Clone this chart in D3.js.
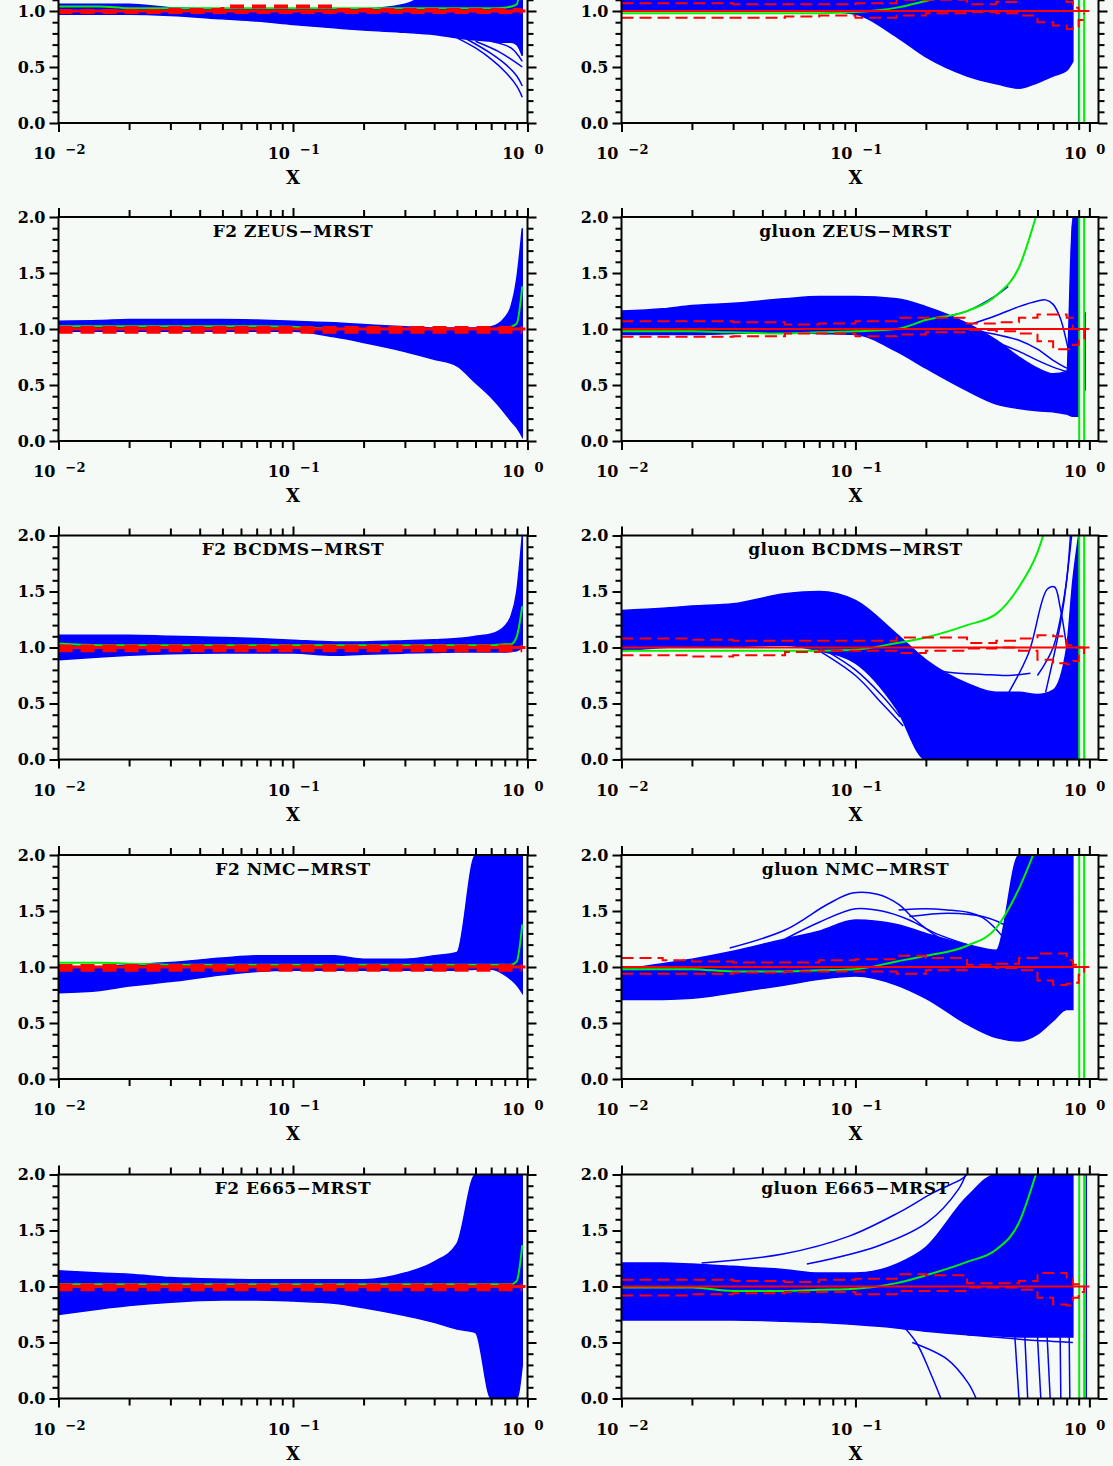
<!DOCTYPE html>
<html>
<head>
<meta charset="utf-8">
<script src="https://cdn.jsdelivr.net/npm/d3@7"></script>
<style>
  body { margin: 0; background: #f5faf7; }
  svg { display: block; }
  text { font-family: "DejaVu Serif", "Liberation Serif", serif; font-weight: bold; fill: #000; }
</style>
</head>
<body>
<script>
// x points shared by all bands and reference curves
var xGrid = [0.01, 0.015, 0.02, 0.03, 0.05, 0.07, 0.1, 0.15, 0.2, 0.3, 0.4, 0.5, 0.6, 0.7, 0.8, 0.85, 0.9, 0.95];

// row 1 (top cut off)
var aUpper = [1.06, 1.06, 1.06, 1.03, 1.02, 1.02, 1.02, 1.02, 1.02, 1.06, 1.2, 1.35, 1.5, 1.7, 1.85, 1.9, 2.0, 2.0];
var aLower = [0.97, 0.97, 0.97, 0.96, 0.93, 0.91, 0.88, 0.85, 0.83, 0.81, 0.79, 0.76, 0.74, 0.73, 0.72, 0.72, 0.70, 0.60];
var aGreen = [1.04, 1.04, 1.025, 1.025, 1.025, 1.025, 1.025, 1.025, 1.025, 1.025, 1.025, 1.025, 1.025, 1.025, 1.03, 1.04, 1.06, 1.4];
var aRedHi = [1.0, 1.0, 1.0, 1.01, 1.04, 1.04, 1.04, 1.01, 1.01, 1.01, 1.01, 1.01, 1.01, 1.01, 1.01, 1.01, 1.01, 1.01];
var aRedLo = [0.99, 0.99, 0.99, 0.99, 0.99, 0.99, 0.99, 0.99, 0.99, 0.99, 0.99, 0.99, 0.99, 0.99, 0.99, 0.99, 0.99, 0.99];
var aCurves = [
  [[0.5, 0.76], [0.6, 0.67], [0.7, 0.57], [0.8, 0.46], [0.9, 0.33], [0.95, 0.23]],
  [[0.55, 0.75], [0.7, 0.62], [0.8, 0.53], [0.9, 0.42], [0.95, 0.33]],
  [[0.6, 0.73], [0.75, 0.64], [0.85, 0.57], [0.95, 0.5]],
  [[0.7, 0.73], [0.85, 0.67], [0.95, 0.55]]
];

var bUpper = [1.2, 1.22, 1.24, 1.27, 1.3, 1.32, 1.32, 1.3, 1.3, 1.3, 1.35, 1.4, 1.4, 1.4, 1.3, 1.2, null, null];
var bLower = [1.01, 1.01, 1.01, 1.01, 1.01, 1.0, 0.97, 0.77, 0.59, 0.42, 0.35, 0.31, 0.36, 0.42, 0.47, 0.55, null, null];
var bGreen = [0.98, 0.98, 0.98, 0.98, 0.98, 0.98, 0.99, 1.03, 1.09, 1.18, 1.32, 1.55, 2.1, null, null, null, null, null];
var bRedHi = [1.07, 1.07, 1.07, 1.06, 1.06, 1.06, 1.07, 1.1, 1.1, 1.06, 1.08, 1.12, 1.14, 1.14, 1.08, 1.03, 1.0, 1.0];
var bRedLo = [0.94, 0.94, 0.94, 0.94, 0.95, 0.96, 0.94, 0.96, 0.98, 0.99, 0.98, 0.96, 0.9, 0.87, 0.84, 0.86, 0.92, 0.98];
var bCurves = [
  [[0.9, 0.0], [0.9, 2.0]]
];

// F2 panels share the MRST error lines
var f2RedHi = [1.01, 1.01, 1.01, 1.01, 1.01, 1.01, 1.01, 1.01, 1.01, 1.01, 1.01, 1.01, 1.01, 1.01, 1.01, 1.01, 1.01, 1.01];
var f2RedLo = [0.975, 0.975, 0.975, 0.975, 0.975, 0.975, 0.975, 0.975, 0.975, 0.975, 0.975, 0.975, 0.975, 0.975, 0.975, 0.975, 0.975, 0.975];

// ZEUS
var cUpper = [1.07, 1.075, 1.085, 1.085, 1.085, 1.08, 1.07, 1.055, 1.04, 1.02, 1.01, 1.01, 1.01, 1.02, 1.1, 1.2, 1.45, 1.9];
var cLower = [0.98, 0.98, 0.98, 0.98, 0.98, 0.98, 0.98, 0.93, 0.88, 0.80, 0.73, 0.67, 0.52, 0.39, 0.25, 0.18, 0.12, 0.04];
var cGreen = [1.025, 1.025, 1.025, 1.025, 1.025, 1.025, 1.02, 1.0, 1.0, 1.0, 1.0, 1.0, 1.0, 1.0, 1.01, 1.02, 1.05, 1.38];

var dUpper = [1.16, 1.18, 1.21, 1.23, 1.27, 1.29, 1.29, 1.27, 1.2, 1.05, 0.9, 0.75, 0.65, 0.6, 0.62, 2.0, 2.0, null];
var dLower = [0.95, 0.95, 0.95, 0.96, 0.97, 0.96, 0.95, 0.80, 0.65, 0.45, 0.33, 0.29, 0.27, 0.26, 0.24, 0.22, 0.22, null];
var dGreen = [0.98, 0.98, 0.98, 0.97, 0.96, 0.97, 0.98, 1.0, 1.08, 1.16, 1.3, 1.55, 2.05, null, null, null, null, null];
var dRedHi = [1.07, 1.07, 1.07, 1.06, 1.04, 1.05, 1.07, 1.1, 1.1, 1.05, 1.06, 1.1, 1.13, 1.13, 1.1, 1.0, 0.98, 1.0];
var dRedLo = [0.93, 0.93, 0.93, 0.935, 0.96, 0.96, 0.935, 0.95, 0.97, 0.99, 0.98, 0.96, 0.89, 0.82, 0.82, 0.86, 0.9, 0.98];
var dCurves = [
  [[0.2, 1.08], [0.3, 1.16], [0.4, 1.3], [0.45, 1.38]],
  [[0.3, 1.03], [0.4, 1.12], [0.5, 1.2], [0.6, 1.25], [0.65, 1.26], [0.7, 1.22], [0.75, 1.1], [0.8, 0.88], [0.84, 0.66]],
  [[0.3, 1.0], [0.4, 0.95], [0.5, 0.9], [0.6, 0.82], [0.7, 0.72], [0.8, 0.65]],
  [[0.3, 0.95], [0.4, 0.88], [0.5, 0.8], [0.6, 0.72], [0.7, 0.66], [0.8, 0.62]],
  [[0.96, 0.45], [0.96, 1.15]]
];

// BCDMS
var eUpper = [1.11, 1.11, 1.11, 1.1, 1.09, 1.08, 1.065, 1.05, 1.05, 1.06, 1.07, 1.08, 1.1, 1.12, 1.19, 1.28, 1.5, 2.0];
var eLower = [0.89, 0.915, 0.93, 0.945, 0.95, 0.95, 0.95, 0.93, 0.94, 0.95, 0.955, 0.96, 0.96, 0.96, 0.96, 0.965, 0.97, 1.0];
var eGreen = [1.035, 1.02, 1.02, 1.02, 1.02, 1.02, 1.02, 1.02, 1.02, 1.02, 1.02, 1.02, 1.02, 1.02, 1.03, 1.03, 1.1, 1.37];

var fUpper = [1.33, 1.35, 1.37, 1.39, 1.48, 1.5, 1.42, 1.12, 0.89, 0.68, 0.6, 0.6, 0.58, 0.62, 1.0, 1.6, 2.0, null];
var fLower = [0.97, 1.0, 1.01, 1.01, 1.02, 0.97, 0.86, 0.45, 0.0, 0.0, 0.0, 0.0, 0.0, 0.0, 0.0, 0.0, 0.0, null];
var fGreen = [0.97, 0.97, 0.97, 0.97, 0.97, 0.97, 0.98, 1.04, 1.09, 1.2, 1.3, 1.54, 1.85, 2.3, null, null, null, null];
var fRedHi = [1.08, 1.08, 1.07, 1.06, 1.06, 1.06, 1.06, 1.09, 1.09, 1.04, 1.06, 1.08, 1.11, 1.1, 1.02, 1.0, 1.0, 1.0];
var fRedLo = [0.93, 0.93, 0.92, 0.93, 0.96, 0.97, 0.97, 0.95, 0.97, 0.99, 1.0, 0.97, 0.89, 0.86, 0.85, 0.88, 0.95, 1.0];
var fCurves = [
  [[0.07, 0.97], [0.1, 0.75], [0.13, 0.5], [0.16, 0.3]],
  [[0.075, 0.97], [0.1, 0.8], [0.13, 0.57], [0.155, 0.38]],
  [[0.15, 0.95], [0.2, 0.82], [0.25, 0.78], [0.35, 0.76], [0.45, 0.75], [0.56, 0.77]],
  [[0.45, 0.59], [0.55, 0.95], [0.66, 1.52], [0.71, 1.54], [0.75, 1.36], [0.8, 1.0]],
  [[0.6, 0.75], [0.7, 1.0], [0.78, 1.45], [0.82, 1.8], [0.84, 2.0]],
  [[0.65, 0.6], [0.75, 1.2], [0.8, 1.6], [0.83, 2.0]]
];

// NMC
var gUpper = [0.98, 1.0, 1.02, 1.04, 1.08, 1.1, 1.1, 1.1, 1.07, 1.07, 1.1, 1.13, 2.0, 2.0, 2.0, 2.0, 2.0, 2.0];
var gLower = [0.77, 0.79, 0.83, 0.87, 0.93, 0.96, 0.97, 0.97, 0.97, 0.97, 0.97, 0.97, 0.98, 0.98, 0.93, 0.89, 0.84, 0.77];
var gGreen = [1.037, 1.037, 1.03, 1.02, 1.02, 1.02, 1.02, 1.02, 1.02, 1.02, 1.02, 1.02, 1.02, 1.02, 1.02, 1.02, 1.05, 1.38];

var hUpper = [0.98, 1.03, 1.07, 1.14, 1.25, 1.32, 1.42, 1.38, 1.3, 1.2, 1.15, 2.0, 2.0, 2.0, 2.0, 2.0, null, null];
var hLower = [0.71, 0.71, 0.72, 0.77, 0.84, 0.89, 0.92, 0.84, 0.72, 0.49, 0.37, 0.34, 0.4, 0.52, 0.62, 0.62, null, null];
var hGreen = [0.98, 0.98, 0.98, 0.96, 0.96, 0.97, 0.98, 1.05, 1.1, 1.19, 1.35, 1.7, 2.1, null, null, null, null, null];
var hRedHi = [1.08, 1.06, 1.05, 1.04, 1.04, 1.06, 1.07, 1.1, 1.08, 1.02, 1.03, 1.08, 1.12, 1.12, 1.06, 1.02, 1.0, 1.0];
var hRedLo = [0.94, 0.94, 0.94, 0.95, 0.96, 0.96, 0.96, 0.94, 0.97, 1.0, 0.99, 0.97, 0.88, 0.84, 0.85, 0.86, 0.93, 1.0];
var hCurves = [
  [[0.029, 1.17], [0.05, 1.33], [0.076, 1.56], [0.097, 1.66], [0.124, 1.65], [0.153, 1.56], [0.176, 1.44], [0.217, 1.29], [0.3, 1.15]],
  [[0.05, 1.25], [0.07, 1.4], [0.1, 1.52], [0.13, 1.5], [0.17, 1.42], [0.22, 1.3], [0.3, 1.2]],
  [[0.153, 1.51], [0.2, 1.52], [0.247, 1.51], [0.3, 1.49], [0.35, 1.44], [0.43, 1.26], [0.5, 1.05]],
  [[0.17, 1.45], [0.25, 1.48], [0.35, 1.45], [0.45, 1.35], [0.5, 1.2]]
];

// E665
var iUpper = [1.14, 1.12, 1.11, 1.08, 1.065, 1.06, 1.06, 1.06, 1.06, 1.12, 1.22, 1.38, 2.0, 2.0, 2.0, 2.0, 2.0, 2.0];
var iLower = [0.75, 0.8, 0.83, 0.86, 0.88, 0.88, 0.87, 0.85, 0.81, 0.74, 0.68, 0.62, 0.59, 0.0, 0.0, 0.0, 0.0, 0.3];
var iGreen = [1.02, 1.02, 1.02, 1.02, 1.02, 1.02, 1.02, 1.02, 1.02, 1.02, 1.02, 1.02, 1.02, 1.02, 1.02, 1.02, 1.05, 1.37];

var jUpper = [1.21, 1.21, 1.2, 1.18, 1.15, 1.12, 1.12, 1.2, 1.35, 1.8, 2.0, 2.0, 2.0, 2.0, 2.0, 2.0, null, null];
var jLower = [0.7, 0.7, 0.7, 0.7, 0.69, 0.68, 0.66, 0.63, 0.6, 0.57, 0.56, 0.55, 0.55, 0.55, 0.55, 0.55, null, null];
var jGreen = [0.99, 0.99, 0.99, 0.96, 0.96, 0.97, 0.98, 1.03, 1.1, 1.22, 1.33, 1.57, 2.05, null, null, null, null, null];
var jRedHi = [1.06, 1.06, 1.06, 1.05, 1.04, 1.06, 1.07, 1.11, 1.1, 1.03, 1.03, 1.05, 1.12, 1.12, 1.08, 1.02, 1.0, 1.0];
var jRedLo = [0.92, 0.92, 0.93, 0.94, 0.95, 0.95, 0.93, 0.96, 0.96, 0.99, 0.99, 0.97, 0.9, 0.84, 0.83, 0.9, 0.95, 1.0];
var jCurves = [
  [[0.022, 1.21], [0.049, 1.29], [0.094, 1.45], [0.153, 1.66], [0.216, 1.84], [0.285, 1.96], [0.3, 2.0]],
  [[0.062, 1.2], [0.124, 1.36], [0.202, 1.57], [0.276, 1.87], [0.296, 2.0]],
  [[0.153, 0.69], [0.182, 0.5], [0.209, 0.23], [0.232, 0.0]],
  [[0.175, 0.5], [0.247, 0.35], [0.303, 0.14], [0.328, 0.0]],
  [[0.48, 0.56], [0.5, 0.0]],
  [[0.53, 0.55], [0.545, 0.0]],
  [[0.6, 0.55], [0.62, 0.0]],
  [[0.66, 0.55], [0.68, 0.0]],
  [[0.75, 0.55], [0.755, 0.0]],
  [[0.82, 0.55], [0.825, 0.0]],
  [[0.3, 0.57], [0.5, 0.53], [0.7, 0.51], [0.85, 0.5]],
  [[0.97, 0.0], [0.97, 2.0]]
];

// vertical green lines near x=1 in the gluon panels
var gluonGreenSpikes = [0.905, 0.95];
var refRatio = 1.0;

var titles = ["", "", "F2 ZEUS\u2212MRST", "gluon ZEUS\u2212MRST", "F2 BCDMS\u2212MRST", "gluon BCDMS\u2212MRST",
              "F2 NMC\u2212MRST", "gluon NMC\u2212MRST", "F2 E665\u2212MRST", "gluon E665\u2212MRST"];

var panels = [
  {upper: aUpper, lower: aLower, green: aGreen, redHi: aRedHi, redLo: aRedLo, curves: aCurves},
  {upper: bUpper, lower: bLower, green: bGreen, redHi: bRedHi, redLo: bRedLo, curves: bCurves},
  {upper: cUpper, lower: cLower, green: cGreen, redHi: f2RedHi, redLo: f2RedLo, curves: []},
  {upper: dUpper, lower: dLower, green: dGreen, redHi: dRedHi, redLo: dRedLo, curves: dCurves},
  {upper: eUpper, lower: eLower, green: eGreen, redHi: f2RedHi, redLo: f2RedLo, curves: []},
  {upper: fUpper, lower: fLower, green: fGreen, redHi: fRedHi, redLo: fRedLo, curves: fCurves},
  {upper: gUpper, lower: gLower, green: gGreen, redHi: f2RedHi, redLo: f2RedLo, curves: []},
  {upper: hUpper, lower: hLower, green: hGreen, redHi: hRedHi, redLo: hRedLo, curves: hCurves},
  {upper: iUpper, lower: iLower, green: iGreen, redHi: f2RedHi, redLo: f2RedLo, curves: []},
  {upper: jUpper, lower: jLower, green: jGreen, redHi: jRedHi, redLo: jRedLo, curves: jCurves}
];

var W = 1113, H = 1466;
var rowTop = [-101, 217, 535.5, 855, 1174.5];
var plotH = 224;
var colLeft = [58.5, 621.5], colRight = [527.5, 1098.5];
var xMax = [1.0, 1.094];
var refEnd = [0.98, 1.0];

var majorX = [0.01, 0.1, 1];
var minorX = [0.02, 0.03, 0.04, 0.05, 0.06, 0.07, 0.08, 0.09, 0.2, 0.3, 0.4, 0.5, 0.6, 0.7, 0.8, 0.9];
var majorY = [0, 0.5, 1, 1.5, 2];
var minorY = [0.1, 0.2, 0.3, 0.4, 0.6, 0.7, 0.8, 0.9, 1.1, 1.2, 1.3, 1.4, 1.6, 1.7, 1.8, 1.9];

var svg = d3.select("body").append("svg").attr("width", W).attr("height", H);
svg.append("rect").attr("width", W).attr("height", H).attr("fill", "#f5faf7");

panels.forEach(function(p, i){ drawPanel(p, i); });

function drawPanel(p, i){
  var col = i % 2, row = Math.floor(i / 2);
  var w = colRight[col] - colLeft[col];
  var g = svg.append("g").attr("transform", "translate(" + colLeft[col] + "," + rowTop[row] + ")");
  var x = d3.scaleLog().domain([0.01, xMax[col]]).range([0, w]);
  var y = d3.scaleLinear().domain([0, 2]).range([plotH, 0]);

  g.append("clipPath").attr("id", "clip" + i)
    .append("rect").attr("width", w).attr("height", plotH);
  var plot = g.append("g").attr("clip-path", "url(#clip" + i + ")");

  var rows = xGrid.map(function(xv, k){
    return {x: xv, hi: p.upper[k], lo: p.lower[k], gr: p.green[k], rh: p.redHi[k], rl: p.redLo[k]};
  });

  // blue ensemble band
  var band = d3.area()
    .defined(function(d){ return d.hi != null && d.lo != null; })
    .x(function(d){ return x(d.x); })
    .y0(function(d){ return y(d.lo); })
    .y1(function(d){ return y(d.hi); })
    .curve(d3.curveMonotoneX);
  plot.append("path").datum(rows).attr("d", band)
    .attr("fill", "#0000ff").attr("stroke", "#0000ff").attr("stroke-width", 1.5);

  var curveLine = d3.line()
    .x(function(d){ return x(d[0]); })
    .y(function(d){ return y(d[1]); })
    .curve(d3.curveCatmullRom.alpha(0.5));
  plot.selectAll(".extra").data(p.curves).enter().append("path")
    .attr("d", curveLine).attr("fill", "none")
    .attr("stroke", "#0000ff").attr("stroke-width", 1.5);

  // green curve
  var greenLine = d3.line()
    .defined(function(d){ return d.gr != null; })
    .x(function(d){ return x(d.x); })
    .y(function(d){ return y(d.gr); })
    .curve(d3.curveMonotoneX);
  plot.append("path").datum(rows).attr("d", greenLine)
    .attr("fill", "none").attr("stroke", "#00ee00").attr("stroke-width", 2);

  if (col == 1) {
    plot.selectAll(".gspike").data(gluonGreenSpikes).enter().append("line")
      .attr("x1", function(d){ return x(d); }).attr("x2", function(d){ return x(d); })
      .attr("y1", y(0)).attr("y2", y(2))
      .attr("stroke", "#00ee00").attr("stroke-width", 2);
  }

  // MRST reference and its error band
  var isF2 = col == 0;
  plot.append("line")
    .attr("x1", x(0.01)).attr("x2", x(refEnd[col]))
    .attr("y1", y(refRatio)).attr("y2", y(refRatio))
    .attr("stroke", "#ff0000").attr("stroke-width", isF2 ? 3 : 2);
  ["rh", "rl"].forEach(function(key){
    var dash = d3.line()
      .x(function(d){ return x(d.x); })
      .y(function(d){ return y(d[key]); })
      .curve(d3.curveStepAfter);
    plot.append("path").datum(rows).attr("d", dash)
      .attr("fill", "none").attr("stroke", "#ff0000")
      .attr("stroke-width", isF2 ? 4 : 2)
      .attr("stroke-dasharray", isF2 ? "14,8" : "12,6");
  });

  // frame and ticks (outward on every side)
  g.append("rect").attr("width", w).attr("height", plotH)
    .attr("fill", "none").attr("stroke", "#000").attr("stroke-width", 2);

  function ticks(axis, tr, vals, size){
    var a = g.append("g").attr("transform", tr)
      .call(axis.tickValues(vals).tickSize(size).tickFormat(""));
    a.select(".domain").remove();
    a.selectAll("line").attr("stroke", "#000").attr("stroke-width", 2);
  }
  ticks(d3.axisBottom(x), "translate(0," + plotH + ")", majorX, 9);
  ticks(d3.axisBottom(x), "translate(0," + plotH + ")", minorX, 7);
  ticks(d3.axisTop(x), "translate(0,0)", majorX, 9);
  ticks(d3.axisTop(x), "translate(0,0)", minorX, 7);
  ticks(d3.axisLeft(y), "translate(0,0)", majorY, 9);
  ticks(d3.axisLeft(y), "translate(0,0)", minorY, 6);
  ticks(d3.axisRight(y), "translate(" + w + ",0)", majorY, 9);
  ticks(d3.axisRight(y), "translate(" + w + ",0)", minorY, 6);

  // y labels (only those inside the page)
  var shown = majorY.filter(function(d){ return rowTop[row] + y(d) > 4; });
  g.selectAll(".ylab").data(shown).enter().append("text")
    .attr("x", -13).attr("y", function(d){ return y(d); }).attr("dy", "0.36em")
    .attr("text-anchor", "end").attr("font-size", 16)
    .text(d3.format(".1f"));

  // x labels: 10 with raised exponent
  var xl = g.selectAll(".xlab").data(majorX).enter().append("g");
  xl.append("text")
    .attr("x", function(d){ return x(d) - 3; }).attr("y", plotH + 36)
    .attr("text-anchor", "end").attr("font-size", 16)
    .text("10");
  xl.append("text")
    .attr("x", function(d){ return x(d) + 7; }).attr("y", plotH + 31)
    .attr("font-size", 13)
    .text(function(d){ var e = Math.round(Math.log10(d)); return e < 0 ? "\u2212" + (-e) : String(e); });

  g.append("text").attr("x", x(0.1)).attr("y", plotH + 61)
    .attr("text-anchor", "middle").attr("font-size", 18).text("X");

  if (titles[i]) {
    g.append("text").attr("x", x(0.1)).attr("y", 19.5)
      .attr("text-anchor", "middle").attr("font-size", 17)
      .attr("letter-spacing", 0.5).text(titles[i]);
  }
}
</script>
</body>
</html>
